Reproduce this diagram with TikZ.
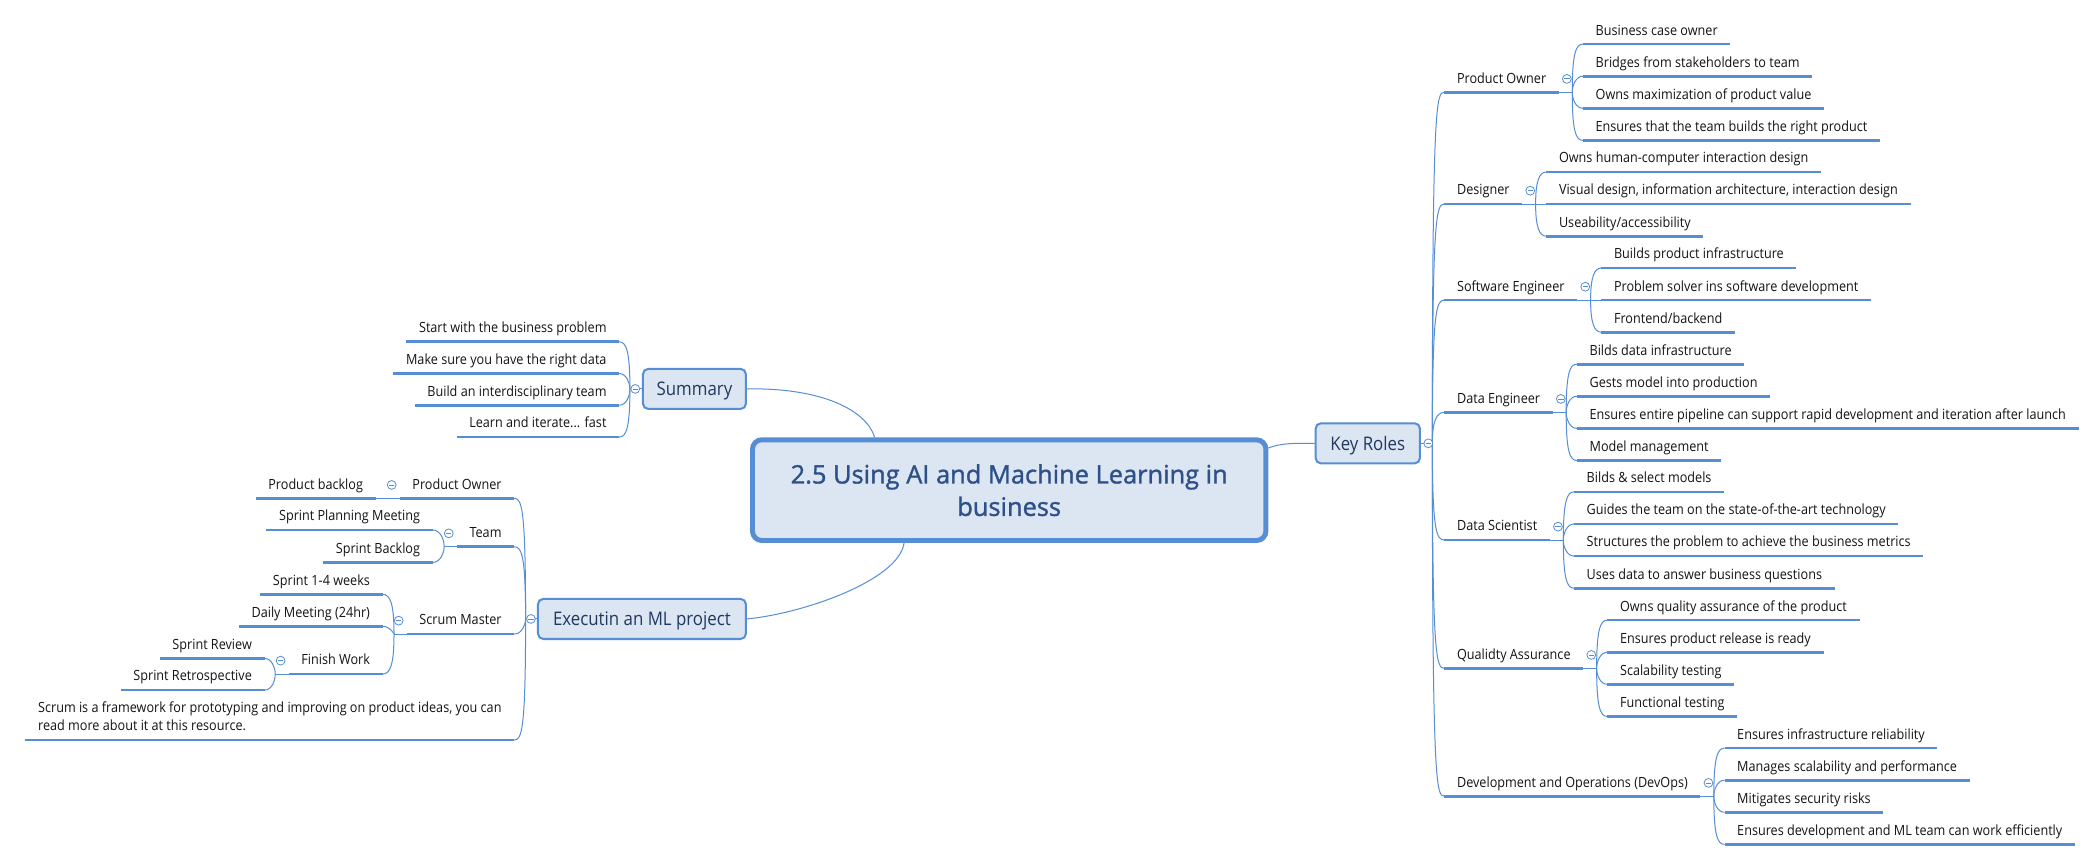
\documentclass[tikz,border=0pt]{standalone}
\usepackage{fontspec}
\setmainfont{Open Sans}
\newfontfamily\leaffamily{Open Sans}[FakeStretch=0.9]
\newfontfamily\titlefamily{Open Sans}[FakeBold=1.3]
\usetikzlibrary{calc,backgrounds}
\definecolor{lineblue}{RGB}{85,142,213}
\definecolor{boxfill}{RGB}{220,230,242}
\definecolor{boxtext}{RGB}{32,56,96}
\definecolor{titletext}{RGB}{46,80,136}
\definecolor{leaftext}{RGB}{20,20,20}
\tikzset{
  uline/.style={draw=lineblue, line width=2pt},
  leaf/.style={font=\leaffamily\fontsize{10.5}{13.4}\selectfont, text=leaftext, inner xsep=9.5pt, inner ysep=4.3pt, text height=8pt, text depth=2.5pt, outer sep=0pt,
    append after command={(\tikzlastnode.south west) edge[uline] (\tikzlastnode.south east)}},
  rleaf/.style={leaf, anchor=south west},
  lleaf/.style={leaf, anchor=south east},
  topicbox/.style={draw=lineblue, fill=boxfill, line width=1.5pt, rounded corners=4pt, text=boxtext,
    font=\leaffamily\fontsize{14}{16}\selectfont, inner sep=0pt, text height=10pt, text depth=0pt, minimum height=30pt},
  centralbox/.style={draw=lineblue, fill=boxfill, line width=3.7pt, rounded corners=7pt, text=titletext,
    font=\titlefamily\fontsize{19}{24.2}\selectfont, align=center, inner sep=0pt, minimum width=383.9pt, minimum height=75.3pt},
  collapse/.style={circle, draw=lineblue, fill=white, line width=0.6pt, minimum size=6.6pt, inner sep=0pt,
    path picture={\draw[lineblue, line width=0.6pt] ([xshift=-2pt]path picture bounding box.center) -- ([xshift=2pt]path picture bounding box.center);}},
  thinline/.style={draw=lineblue, line width=0.75pt},
  branch/.style={thinline, to path={let \p1=(\tikztostart), \p2=(\tikztotarget),
      \n1={sign(\y1-\y2)*min(7,abs(\y1-\y2))}, \n2={\x1+(\x2-\x1)/3} in
      (\p1) .. controls (\x1,{\y2+\n1*1pt}) and ({\n2*1pt},\y2) .. (\p2) \tikztonodes}},
}
\begin{document}
\begin{tikzpicture}[x=1pt,y=-1pt]
\useasboundingbox (0,0) rectangle (1568,644);

% central and main topics
\node[centralbox] (C) at (754.6,366.5) {2.5 Using AI and Machine Learning in\\business};
\node[topicbox, minimum width=77pt] (S) at (519.25,290.8) {Summary};
\node[topicbox, minimum width=155.5pt] (E) at (480,462.8) {Executin an ML project};
\node[topicbox, minimum width=78pt] (K) at (1022.75,331.5) {Key Roles};

% ---------- Key Roles ----------
\coordinate (jK) at ([xshift=8.5pt]K.east);
\coordinate (cK) at ([xshift=9pt]jK);
\node[rleaf] (r1) at (cK |- 0,69) {Product Owner};
\node[rleaf] (r2) at (cK |- 0,152.6) {Designer};
\node[rleaf] (r3) at (cK |- 0,224.4) {Software Engineer};
\node[rleaf] (r4) at (cK |- 0,308.3) {Data Engineer};
\node[rleaf] (r5) at (cK |- 0,403.8) {Data Scientist};
\node[rleaf] (r6) at (cK |- 0,499.7) {Qualidty Assurance};
\node[rleaf] (r7) at (cK |- 0,595.4) {Development and Operations (DevOps)};
\foreach \i in {1,...,7}{
  \coordinate (j\i) at ([xshift=10pt]r\i.south east);
  \coordinate (c\i) at ([xshift=8pt]j\i);
}
\node[rleaf] (r1a) at (c1 |- 0,33) {Business case owner};
\node[rleaf] (r1b) at (c1 |- 0,57) {Bridges from stakeholders to team};
\node[rleaf] (r1c) at (c1 |- 0,81) {Owns maximization of product value};
\node[rleaf] (r1d) at (c1 |- 0,105) {Ensures that the team builds the right product};
\node[rleaf] (r2a) at (c2 |- 0,128.6) {Owns human-computer interaction design};
\node[rleaf] (r2b) at (c2 |- 0,152.6) {Visual design, information architecture, interaction design};
\node[rleaf] (r2c) at (c2 |- 0,176.6) {Useability/accessibility};
\node[rleaf] (r3a) at (c3 |- 0,200.4) {Builds product infrastructure};
\node[rleaf] (r3b) at (c3 |- 0,224.4) {Problem solver ins software development};
\node[rleaf] (r3c) at (c3 |- 0,248.4) {Frontend/backend};
\node[rleaf] (r4a) at (c4 |- 0,272.3) {Bilds data infrastructure};
\node[rleaf] (r4b) at (c4 |- 0,296.3) {Gests model into production};
\node[rleaf] (r4c) at (c4 |- 0,320.3) {Ensures entire pipeline can support rapid development and iteration after launch};
\node[rleaf] (r4d) at (c4 |- 0,344.3) {Model management};
\node[rleaf] (r5a) at (c5 |- 0,367.8) {Bilds \& select models};
\node[rleaf] (r5b) at (c5 |- 0,391.8) {Guides the team on the state-of-the-art technology};
\node[rleaf] (r5c) at (c5 |- 0,415.8) {Structures the problem to achieve the business metrics};
\node[rleaf] (r5d) at (c5 |- 0,439.8) {Uses data to answer business questions};
\node[rleaf] (r6a) at (c6 |- 0,463.7) {Owns quality assurance of the product};
\node[rleaf] (r6b) at (c6 |- 0,487.7) {Ensures product release is ready};
\node[rleaf] (r6c) at (c6 |- 0,511.7) {Scalability testing};
\node[rleaf] (r6d) at (c6 |- 0,535.7) {Functional testing};
\node[rleaf] (r7a) at (c7 |- 0,559.4) {Ensures infrastructure reliability};
\node[rleaf] (r7b) at (c7 |- 0,583.4) {Manages scalability and performance};
\node[rleaf] (r7c) at (c7 |- 0,607.4) {Mitigates security risks};
\node[rleaf] (r7d) at (c7 |- 0,631.4) {Ensures development and ML team can work efficiently};

% ---------- Summary ----------
\coordinate (jS) at ([xshift=-9pt]S.west);
\coordinate (cS) at ([xshift=-8pt]jS);
\node[lleaf] (s1) at (cS |- 0,255.6) {Start with the business problem};
\node[lleaf] (s2) at (cS |- 0,279.3) {Make sure you have the right data};
\node[lleaf] (s3) at (cS |- 0,303) {Build an interdisciplinary team};
\node[lleaf] (s4) at (cS |- 0,326.8) {Learn and iterate... fast};

% ---------- Executin an ML project ----------
\coordinate (jE) at ([xshift=-8.5pt]E.west);
\coordinate (cE) at ([xshift=-8.5pt]jE);
\node[lleaf] (e1) at (cE |- 0,372.6) {Product Owner};
\node[lleaf] (e2) at (cE |- 0,408.8) {Team};
\node[lleaf] (e3) at (cE |- 0,474.1) {Scrum Master};
\node[lleaf, align=left] (e4) at (cE |- 0,553.3) {Scrum is a framework for prototyping and improving on product ideas, you can\\read more about it at this resource.};
\foreach \i in {1,2,3}{
  \coordinate (je\i) at ([xshift=-9.5pt]e\i.south west);
  \coordinate (ce\i) at ([xshift=-8.5pt]je\i);
}
\node[lleaf] (e1a) at (ce1 |- 0,372.6) {Product backlog};
\node[lleaf] (e2a) at (ce2 |- 0,396.3) {Sprint Planning Meeting};
\node[lleaf] (e2b) at (ce2 |- 0,420.5) {Sprint Backlog};
\node[lleaf] (e3a) at (ce3 |- 0,444.4) {Sprint 1-4 weeks};
\node[lleaf] (e3b) at (ce3 |- 0,468.3) {Daily Meeting (24hr)};
\node[lleaf] (e3c) at (ce3 |- 0,504) {Finish Work};
\coordinate (je3c) at ([xshift=-10pt]e3c.south west);
\coordinate (ce3c) at ([xshift=-8pt]je3c);
\node[lleaf] (e3c1) at (ce3c |- 0,492.3) {Sprint Review};
\node[lleaf] (e3c2) at (ce3c |- 0,516) {Sprint Retrospective};

% ---------- connectors ----------
\begin{pgfonlayer}{background}
\fill[white] (0,0) rectangle (1568,644);
\draw[thinline] (S.east) .. controls +(56.5,-1) and +(-6,-20) .. ([xshift=-100.6pt]C.north);
\draw[thinline] (E.east) .. controls +(42,-4) and +(-4,28) .. ([xshift=-78.6pt]C.south);
\draw[thinline] ([yshift=-8pt]C.north east) .. controls +(10,-4) and +(-14,0) .. (K.west);
% Key Roles
\draw[thinline] (K.east) -- (jK);
\foreach \i in {1,...,7}{
  \draw[branch] (jK) to (r\i.south west);
  \draw[thinline] (r\i.south east) -- (j\i);
}
\foreach \m/\ll in {1/{a,b,c,d},2/{a,b,c},3/{a,b,c},4/{a,b,c,d},5/{a,b,c,d},6/{a,b,c,d},7/{a,b,c,d}}{
  \foreach \q in \ll { \draw[branch] (j\m) to (r\m\q.south west); }
}
% Summary
\draw[thinline] (S.west) -- (jS);
\foreach \i in {1,...,4}{ \draw[branch] (jS) to (s\i.south east); }
% Executin
\draw[thinline] (E.west) -- (jE);
\foreach \i in {1,...,4}{ \draw[branch] (jE) to (e\i.south east); }
\foreach \i in {1,2,3}{ \draw[thinline] (e\i.south west) -- (je\i); }
\draw[branch] (je1) to (e1a.south east);
\draw[branch] (je2) to (e2a.south east);
\draw[branch] (je2) to (e2b.south east);
\draw[branch] (je3) to (e3a.south east);
\draw[branch] (je3) to (e3b.south east);
\draw[branch] (je3) to (e3c.south east);
\draw[thinline] (e3c.south west) -- (je3c);
\draw[branch] (je3c) to (e3c1.south east);
\draw[branch] (je3c) to (e3c2.south east);
\end{pgfonlayer}

% ---------- collapse markers ----------
\node[collapse] (oK) at ([xshift=5.5pt]K.east) {};
\node[collapse] (oS) at ([xshift=-5pt]S.west) {};
\node[collapse] (oE) at ([xshift=-4.5pt]E.west) {};
\foreach \i in {1,...,7}{ \node[collapse] (o\i) at ([xshift=6pt,yshift=10pt]r\i.south east) {}; }
\foreach \i in {1,2,3}{ \node[collapse] (oe\i) at ([xshift=-6pt,yshift=10pt]e\i.south west) {}; }
\node[collapse] (oe3c) at ([xshift=-6pt,yshift=10pt]e3c.south west) {};
\end{tikzpicture}
\end{document}
